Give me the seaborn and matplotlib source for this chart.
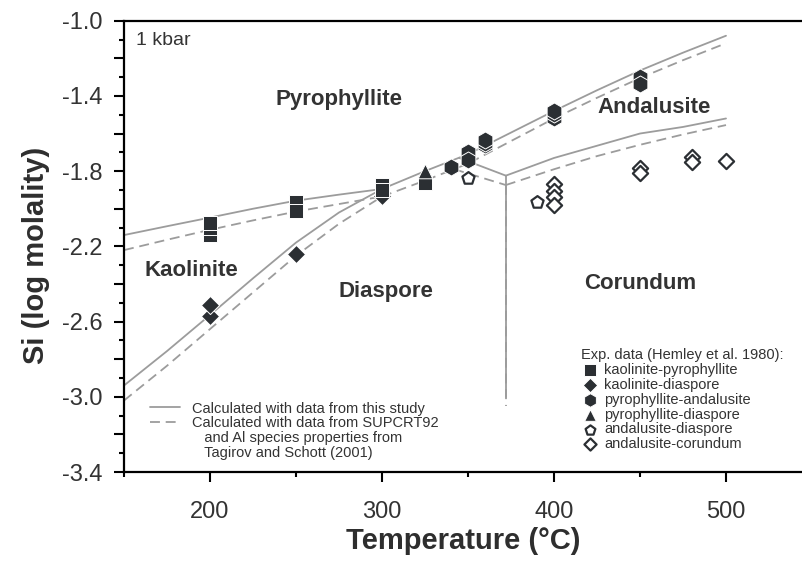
import numpy as np
import pandas as pd
import matplotlib
matplotlib.use("Agg")
import matplotlib.pyplot as plt
import seaborn as sns
from matplotlib.ticker import MultipleLocator, FuncFormatter
from matplotlib.lines import Line2D

sns.set_theme(style="ticks")
plt.rcParams['font.family'] = ['Liberation Sans', 'DejaVu Sans']
plt.rcParams['axes.unicode_minus'] = False

LINE = '#9c9c9c'
DARK = '#2b2f33'
TXT = '#333333'

# ---- phase boundaries (T in degC, log m Si) ----
kp_T = [150, 175, 200, 225, 250, 275, 300]
kp_solid = [-2.14, -2.093, -2.047, -2.0, -1.957, -1.925, -1.895]
kp_dash = [-2.22, -2.165, -2.112, -2.062, -2.015, -1.975, -1.935]

kd_T = [150, 175, 200, 225, 250, 275, 300]
kd_solid = [-2.94, -2.757, -2.565, -2.37, -2.18, -2.02, -1.895]
kd_dash = [-3.02, -2.835, -2.64, -2.445, -2.25, -2.08, -1.935]

pa_T = [300, 325, 350, 375, 400, 425, 450, 475, 500]
pa_solid = [-1.895, -1.80, -1.71, -1.595, -1.48, -1.37, -1.265, -1.17, -1.08]
pa_dash = [-1.935, -1.85, -1.76, -1.64, -1.52, -1.41, -1.305, -1.21, -1.12]

ad_T_solid = [345, 372]
ad_solid = [-1.73, -1.824]
ad_T_dash = [342, 372]
ad_dash = [-1.79, -1.874]

ac_T = [372, 400, 425, 450, 475, 500]
ac_solid = [-1.824, -1.73, -1.665, -1.60, -1.565, -1.52]
ac_dash = [-1.874, -1.79, -1.72, -1.66, -1.605, -1.555]

dc_T = [372, 372]
dc_solid = [-1.824, -3.0]
dc_dash = [-1.874, -3.05]

# ---- experimental data (Hemley et al. 1980) ----
kdia_T = [200, 200, 250, 300]
kdia_v = [-2.57, -2.51, -2.24, -1.93]
kpyr_T = [200, 200, 200, 250, 250, 300, 300, 325]
kpyr_v = [-2.14, -2.105, -2.075, -1.965, -2.01, -1.875, -1.90, -1.865]
pand_T = [340, 350, 350, 360, 360, 360, 400, 400, 400, 450, 450]
pand_v = [-1.776, -1.70, -1.74, -1.66, -1.65, -1.635, -1.515, -1.497, -1.478, -1.30, -1.335]
pdia_T = [325]
pdia_v = [-1.80]
adia_T = [350, 390]
adia_v = [-1.835, -1.963]
acor_T = [400, 400, 400, 400, 450, 450, 480, 480, 500]
acor_v = [-1.87, -1.905, -1.94, -1.98, -1.785, -1.81, -1.725, -1.75, -1.745]

fig = plt.figure(figsize=(8.02, 5.68), dpi=100)
ax = fig.add_axes([124/802, 96/568, 678/802, 451.3/568])

lw = 1.3
dash = (5.5, 3.2)

def solid(T, v, label=None):
    sns.lineplot(x=T, y=v, ax=ax, color=LINE, lw=lw, sort=False, estimator=None,
                 label=label, legend=False)

def dashed(T, v, label=None):
    sns.lineplot(x=T, y=v, ax=ax, color=LINE, lw=lw, sort=False, estimator=None,
                 label=label, legend=False)
    ax.lines[-1].set_dashes(dash)

solid(kp_T, kp_solid, 'Calculated with data from this study')
dashed(kp_T, kp_dash, 'Calculated with data from SUPCRT92')
solid(kd_T, kd_solid); dashed(kd_T, kd_dash)
solid(pa_T, pa_solid); dashed(pa_T, pa_dash)
solid(ad_T_solid, ad_solid); dashed(ad_T_dash, ad_dash)
solid(ac_T, ac_solid); dashed(ac_T, ac_dash)
dashed(dc_T, dc_dash); solid(dc_T, dc_solid)

line_handles = list(ax.lines[:2])
line_labels = [h.get_label() for h in line_handles]
blank = Line2D([], [], linestyle='none')
line_handles += [blank, blank]
line_labels += ['   and Al species properties from', '   Tagirov and Schott (2001)']

filled_kw = dict(color=DARK, edgecolor='white', linewidth=0.7, zorder=3)
open_kw = dict(color=DARK, facecolor='white', edgecolor=DARK, linewidth=1.6, zorder=3)

sns.scatterplot(x=kdia_T, y=kdia_v, ax=ax, marker='D', s=85, label='kaolinite-diaspore', **filled_kw)
sns.scatterplot(x=kpyr_T, y=kpyr_v, ax=ax, marker='s', s=100, label='kaolinite-pyrophyllite', **filled_kw)
sns.scatterplot(x=pand_T, y=pand_v, ax=ax, marker='h', s=150, label='pyrophyllite-andalusite', **filled_kw)
sns.scatterplot(x=pdia_T, y=pdia_v, ax=ax, marker='^', s=110, label='pyrophyllite-diaspore', **filled_kw)
sns.scatterplot(x=adia_T, y=adia_v, ax=ax, marker='p', s=85, label='andalusite-diaspore', **open_kw)
sns.scatterplot(x=acor_T, y=acor_v, ax=ax, marker='D', s=60, label='andalusite-corundum', **open_kw)

handles, labels = ax.get_legend_handles_labels()
hmap = dict(zip(labels, handles))
order = ['kaolinite-pyrophyllite', 'kaolinite-diaspore', 'pyrophyllite-andalusite',
         'pyrophyllite-diaspore', 'andalusite-diaspore', 'andalusite-corundum']

leg1 = ax.legend(line_handles, line_labels, loc='upper left',
                 bbox_to_anchor=((150 - 124) / 678, (472 - 401.5) / 451.3),
                 frameon=False, fontsize=10.5, handlelength=2.05, handletextpad=0.8,
                 labelspacing=0.06, borderpad=0, borderaxespad=0)
for t in leg1.get_texts():
    t.set_color(TXT)
for h in leg1.legend_handles:
    h.set_linewidth(lw)
ax.add_artist(leg1)

leg2 = ax.legend([hmap[o] for o in order], order, loc='upper left',
                 bbox_to_anchor=((581 - 124) / 678, (472 - 348) / 451.3),
                 frameon=False, fontsize=10.5, handlelength=1.2, handletextpad=0.4,
                 labelspacing=0.06, borderpad=0, borderaxespad=0, markerscale=0.8,
                 title='Exp. data (Hemley et al. 1980):', title_fontsize=10.5,
                 alignment='left')
for t in leg2.get_texts():
    t.set_color(TXT)
leg2.get_title().set_color(TXT)

# region labels
lab_kw = dict(fontsize=16, fontweight='bold', color=TXT, ha='center', va='center')
ax.text(275, -1.42, 'Pyrophyllite', **lab_kw)
ax.text(458, -1.46, 'Andalusite', **lab_kw)
ax.text(189, -2.33, 'Kaolinite', **lab_kw)
ax.text(302, -2.44, 'Diaspore', **lab_kw)
ax.text(450, -2.40, 'Corundum', **lab_kw)
ax.text(0.018, 0.957, '1 kbar', transform=ax.transAxes, fontsize=14, color=TXT,
        ha='left', va='center')

ax.set_xlim(150, 150 + 678 / 1.72)
ax.set_ylim(-3.4, -1.0)
ax.xaxis.set_major_locator(MultipleLocator(100))
ax.xaxis.set_minor_locator(MultipleLocator(50))
ax.yaxis.set_major_locator(MultipleLocator(0.2))
ax.yaxis.set_minor_locator(MultipleLocator(0.1))

def yfmt(v, p):
    k = (v + 1.0) / 0.4
    if abs(k - round(k)) < 1e-6:
        return f"{v:.1f}"
    return ""
ax.yaxis.set_major_formatter(FuncFormatter(yfmt))

ax.tick_params(which='major', direction='out', length=7, width=1.5, color='black',
               labelsize=17, labelcolor=TXT)
ax.tick_params(which='minor', direction='out', length=3.5, width=1.5, color='black')
ax.tick_params(axis='x', which='major', pad=14)
ax.tick_params(axis='y', which='major', pad=8.5)

for s in ['left', 'bottom', 'top']:
    ax.spines[s].set_linewidth(1.6)
    ax.spines[s].set_color('black')
ax.spines['right'].set_visible(False)

ax.set_xlabel('Temperature (°C)', fontsize=21, fontweight='bold', color='#2e2e2e')
ax.set_ylabel('Si (log molality)', fontsize=21, fontweight='bold', color='#2e2e2e')
ax.xaxis.set_label_coords(0.5, (472 - 527) / 451.3)
ax.yaxis.set_label_coords((50 - 124) / 678, 0.48)

fig.savefig('out.png', dpi=100)
